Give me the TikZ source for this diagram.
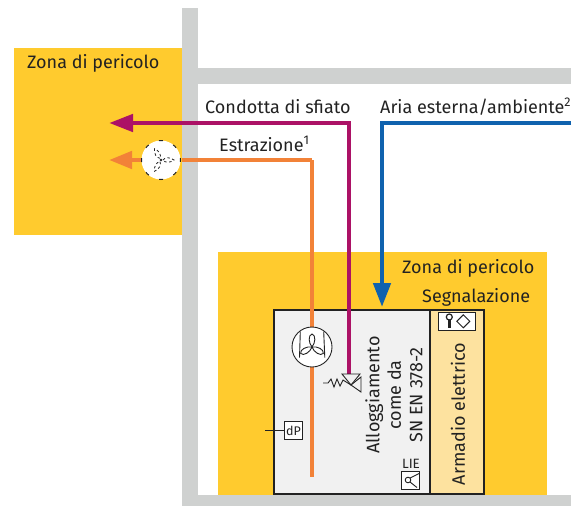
\documentclass[tikz,border=0pt]{standalone}
\usepackage{fontspec}
\setmainfont{Fira Sans}
\usetikzlibrary{arrows.meta}
\definecolor{zoneY}{HTML}{FFCB2E}
\definecolor{wallG}{HTML}{CFD1D0}
\definecolor{housG}{HTML}{F1F1F1}
\definecolor{cabY}{HTML}{FDE29F}
\definecolor{pipeM}{HTML}{AC1266}
\definecolor{pipeO}{HTML}{F28238}
\definecolor{pipeB}{HTML}{0F62AE}
\definecolor{inkD}{HTML}{222222}
\tikzset{
  lbl/.style={font=\fontsize{18}{20}\selectfont,text=inkD,inner sep=0pt},
  vlbl/.style={font=\fontsize{18}{21.5}\selectfont,text=inkD,inner sep=0pt,rotate=90,align=center},
  tiny/.style={font=\fontsize{13.5}{15}\selectfont,text=inkD,inner sep=0pt},
  pipe/.style={line width=4.6pt},
  sym/.style={draw=inkD,line width=0.9pt},
  symbox/.style={draw=inkD,line width=0.9pt,fill=white,inner sep=0pt},
  encl/.style={draw=inkD,line width=2.4pt}
}
\begin{document}
\begin{tikzpicture}[x=1pt,y=-1pt]
\useasboundingbox (0,0) rectangle (585,506);
\fill[white] (0,0) rectangle (585,506);
% walls
\fill[wallG] (182,8) rectangle (198,506);
\fill[wallG] (198,68) rectangle (571,84);
\fill[wallG] (198,495) rectangle (571,506);
% zones
\fill[zoneY] (14,48) rectangle (182,235);
\fill[zoneY] (218,252) rectangle (547,495);
% housings
\node[encl,fill=housG,minimum width=156pt,minimum height=184pt,inner sep=0pt] (hous) at (352,402) {};
\node[encl,fill=cabY,minimum width=54pt,minimum height=184pt,inner sep=0pt] (cab) at (457,402) {};
% labels
\node[lbl,anchor=base west] (z1) at (27,68) {Zona di pericolo};
\node[lbl,anchor=base west] (z2) at (402,273) {Zona di pericolo};
\node[lbl,anchor=base west] (seg) at (422,302) {Segnalazione};
\node[lbl,anchor=base west] (cond) at (205,113) {Condotta di sfiato};
\node[lbl,anchor=base west] (aria) at (380,113) {Aria esterna/ambiente\textsuperscript{2}};
\node[lbl,anchor=base west] (estr) at (219,151) {Estrazione\textsuperscript{1}};
\node[vlbl] (allog) at (394,395) {Alloggiamento\\come da\\SN EN 378-2};
\node[vlbl] (arm) at (458,414) {Armadio elettrico};
% coordinates
\coordinate (mEnd) at (109,123);
\coordinate (mC1) at (349,123);
\coordinate (oEnd) at (109,160);
\coordinate (oC1) at (312,160);
\coordinate (oEnd2) at (312,477);
\coordinate (bStart) at (571,123);
\coordinate (bC1) at (382,123);
\coordinate (bEnd) at (382,307);
% blue
\draw[pipe,pipeB,-{Triangle[length=24pt,width=17pt]}] (bStart) -- (bC1) -- (bEnd);
% orange
\draw[pipe,pipeO] (oC1) -- (oEnd2);
\draw[pipe,pipeO] (182,160) -- (oC1);
\draw[pipe,pipeO,-{Triangle[length=23pt,width=17pt]}] (150,160) -- (oEnd);
% magenta
\coordinate (vTop) at (349,374);
\draw[pipe,pipeM,-{Triangle[length=24pt,width=17pt]}] (vTop) -- (mC1) -- (mEnd);
% fan in wall (dashed)
\node[circle,fill=white,minimum size=39pt,inner sep=0pt] (fanD) at (161,160) {};
\draw[inkD,line width=1pt,dash pattern=on 4pt off 11.31pt,dash phase=2pt] (fanD.center) circle (19.5pt);
\fill[inkD] (161,160) circle (1.4pt);
\begin{scope}[shift={(161,160)}]
 \foreach \a in {120,0,240}{
  \begin{scope}[rotate=\a]
  \draw[inkD,line width=0.8pt,dash pattern=on 2.5pt off 2.5pt] (2,0) .. controls (4,-3) and (9,-3) .. (13,0) .. controls (9,3) and (4,3) .. (2,0);
  \end{scope}}
\end{scope}
% fan in housing
\node[circle,draw=inkD,line width=0.9pt,fill=white,minimum size=40pt,inner sep=0pt] (fan) at (312,347) {};
\draw[sym] (300.3,331.7) -- (299.5,357.7);
\draw[sym] (323.7,331.7) -- (324.8,357.7);
\begin{scope}[shift={(312,347)}]
 \foreach \a in {90,210,330}{
  \begin{scope}[rotate=\a]
  \draw[sym] (0,0) .. controls (4,-3.5) and (12,-4) .. (13,0) .. controls (12,4) and (4,3.5) .. (0,0);
  \end{scope}}
\end{scope}
% valve
\draw[sym,fill=housG] (342,374) -- (360,374) -- (351,385) -- cycle;
\draw[sym,fill=housG] (351,385) -- (361,392) -- (361,377) -- cycle;
\draw[sym] (323,383) -- (328,383) -- (331,379) -- (334,387) -- (337,379) -- (340,386) -- (343,380) -- (351,385);
% dP
\node[symbox,minimum width=18.5pt,minimum height=18.5pt,font=\fontsize{12.5}{14}\selectfont,text=inkD] (dp) at (293.5,430.5) {dP};
\coordinate (dpL) at (265,430.5);
\draw[inkD,line width=0.8pt] (dpL) -- (dp);
% LIE
\node[tiny,anchor=base] (lie) at (411,468) {LIE};
\node[symbox,minimum width=18.5pt,minimum height=18pt] (liebox) at (410.5,480) {};
\draw[sym] (408,480) circle (2.8pt);
\draw[sym] (410,478) -- (419,473.5);
\draw[sym] (410,482) -- (417,487.5);
% signal box
\node[symbox,minimum width=37.5pt,minimum height=18pt] (sig) at (457,321) {};
\draw[inkD,line width=1.2pt] (449.3,317) circle (3pt);
\fill[inkD] (447.7,319.5) rectangle (451,328);
\draw[inkD,line width=0.9pt] (463.3,314.8) -- (469.8,321.3) -- (463.3,327.8) -- (456.8,321.3) -- cycle;
\end{tikzpicture}
\end{document}
